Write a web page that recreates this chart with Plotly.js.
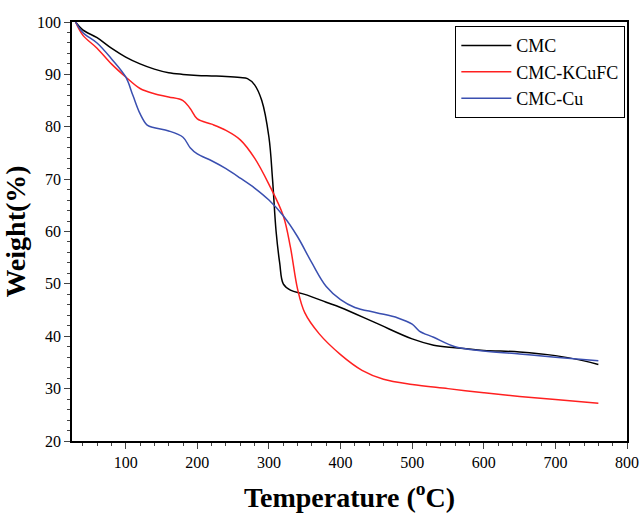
<!DOCTYPE html>
<html><head><meta charset="utf-8">
<script src="https://cdn.plot.ly/plotly-3.0.1.min.js"></script>
<style>body{margin:0}#g{width:640px;height:513px}</style>
</head><body><div id="g"></div>
<script>
var cmcT = [30,40,60,80,100,120,140,160,180,200,220,240,260,270,280,290,300,305,310,315,320,330,350,380,400,450,500,530,560,600,650,700,740,760];
var cmcW = [100,98.5,97,95,93.3,92,91,90.3,90,89.8,89.7,89.6,89.4,89.2,88,85,78,70,60,54,50,48.8,48,46.5,45.5,42.5,39.5,38.3,37.8,37.3,37,36.3,35.3,34.6];
var kcuT = [30,40,60,80,100,120,140,160,180,190,200,220,240,260,280,300,320,330,340,350,370,400,430,460,500,550,600,650,700,760];
var kcuW = [100,97.5,95,92,89.5,87.3,86.3,85.7,85,83.5,81.5,80.5,79.3,77.5,74,69,63,57,49,44.5,40.5,36.5,33.5,31.8,30.8,30,29.2,28.5,27.9,27.2];
var cuT = [30,40,60,80,100,110,120,130,140,160,180,190,200,220,240,260,280,300,320,340,360,380,400,420,450,480,500,510,530,560,600,650,700,760];
var cuW = [100,98,96,93,89.5,86,82.5,80.3,79.8,79.2,78,76,74.8,73.5,72,70.2,68.3,66,63,59,54,49.5,47,45.5,44.5,43.5,42.3,41,39.8,38,37.2,36.6,36,35.3];

var ax = {showline:true, linewidth:1.5, linecolor:'black', mirror:true, ticks:'outside', ticklen:6,
  minor:{ticks:'outside', ticklen:3}, showgrid:false, zeroline:false,
  tickfont:{family:'Liberation Serif', size:16, color:'black'}};
Plotly.newPlot('g', [
  {x:cmcT, y:cmcW, name:'CMC', mode:'lines', line:{color:'black', width:1.5, shape:'spline'}},
  {x:kcuT, y:kcuW, name:'CMC-KCuFC', mode:'lines', line:{color:'#ff2020', width:1.5, shape:'spline'}},
  {x:cuT, y:cuW, name:'CMC-Cu', mode:'lines', line:{color:'#3a4fb0', width:1.5, shape:'spline'}}
], {
  width:640, height:513, margin:{l:72, r:13, t:22, b:72},
  paper_bgcolor:'white', plot_bgcolor:'white', showlegend:true,
  legend:{x:0.997, y:0.99, xanchor:'right', yanchor:'top', bordercolor:'black', borderwidth:1,
    itemwidth:50, tracegroupgap:0, font:{family:'Liberation Serif', size:18, color:'black'}},
  xaxis:Object.assign({}, ax, {range:[25,800], dtick:100, tick0:0,
    title:{text:'Temperature (<sup>o</sup>C)', font:{family:'Liberation Serif', size:28, color:'black', weight:'bold'}, standoff:18}}),
  yaxis:Object.assign({}, ax, {range:[20,100], dtick:10,
    title:{text:'Weight(%)', font:{family:'Liberation Serif', size:28, color:'black', weight:'bold'}, standoff:8}})
}, {displayModeBar:false});
</script></body></html>
